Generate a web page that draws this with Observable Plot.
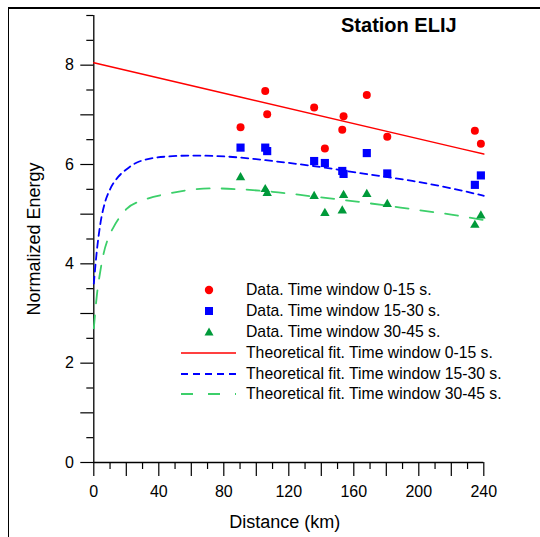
<!DOCTYPE html>
<html>
<head>
<meta charset="utf-8">
<script src="https://cdn.jsdelivr.net/npm/d3@7"></script>
<script src="https://cdn.jsdelivr.net/npm/@observablehq/plot@0.6"></script>
<style>
  html, body { margin: 0; padding: 0; background: #fff; }
  body { width: 540px; height: 537px; position: relative; overflow: hidden; font-family: Arial, "Liberation Sans", sans-serif; }
  #chart { position: absolute; left: 0; top: 0; }
  #frame { position: absolute; left: 8px; top: 7px; width: 540px; height: 540px; border-top: 2px solid #000; border-left: 1.5px solid #000; box-sizing: border-box; pointer-events: none; }
  #legend { position: absolute; left: 180px; top: 279.5px; font-size: 15.75px; color: #000; }
  #legend .row { height: 20.9px; display: flex; align-items: center; white-space: nowrap; }
  #legend svg { width: 58px; height: 20px; margin-right: 8px; flex: none; }
</style>
</head>
<body>
<div id="chart"></div>
<div id="frame"></div>
<div id="legend"></div>
<script>
// ---- data ----
const distances = [90.3, 105.5, 106.7, 135.6, 142.2, 152.9, 153.7, 168, 180.6, 234.5, 238.2];
const energy0_15  = [6.75, 7.48, 7.01, 7.15, 6.32, 6.70, 6.97, 7.40, 6.56, 6.68, 6.42];
const energy15_30 = [6.34, 6.34, 6.27, 6.07, 6.03, 5.87, 5.81, 6.23, 5.82, 5.59, 5.78];
const energy30_45 = [5.74, 5.50, 5.42, 5.36, 5.02, 5.07, 5.38, 5.40, 5.20, 4.78, 4.97];

const fitDist0_15 = [0, 90, 240];
const fitVal0_15  = [8.05, 7.36, 6.21];
const fitDist15_30 = [0, 2, 4, 7, 10, 15, 20, 28, 45, 60, 75, 90, 110, 135, 167, 196, 220, 240];
const fitVal15_30  = [3.6, 4.3, 4.8, 5.25, 5.5, 5.75, 5.9, 6.06, 6.16, 6.18, 6.17, 6.14, 6.07, 5.97, 5.81, 5.67, 5.52, 5.37];
const fitDist30_45 = [0, 2, 4, 6, 10, 12, 20, 32, 47, 59, 73, 90, 110, 134, 167, 196, 220, 240];
const fitVal30_45  = [2.7, 3.4, 3.85, 4.2, 4.6, 4.73, 5.1, 5.3, 5.42, 5.49, 5.52, 5.5, 5.45, 5.36, 5.23, 5.1, 4.99, 4.88];

const xMajorTicks = [0, 20, 40, 60, 80, 100, 120, 140, 160, 180, 200, 220, 240];
const xMinorTicks = [10, 30, 50, 70, 90, 110, 130, 150, 170, 190, 210, 230];
const xLabelTicks = [0, 40, 80, 120, 160, 200, 240];
const yMajorTicks = [0, 1, 2, 3, 4, 5, 6, 7, 8];
const yMinorTicks = [0.5, 1.5, 2.5, 3.5, 4.5, 5.5, 6.5, 7.5, 8.5, 9];
const yLabelTicks = [0, 2, 4, 6, 8];

const titleText = "Station ELIJ";
const xLabel = "Distance (km)";
const yLabel = "Normalized Energy";
const seriesNames = ["Data. Time window 0-15 s.", "Data. Time window 15-30 s.", "Data. Time window 30-45 s.",
  "Theoretical fit. Time window 0-15 s.", "Theoretical fit. Time window 15-30 s.", "Theoretical fit. Time window 30-45 s."];

// ---- build tables ----
const pts = (vals) => distances.map((d, i) => ({d, v: vals[i]}));
const fit = (ds, vs) => ds.map((d, i) => ({d, v: vs[i]}));
const obs1 = pts(energy0_15), obs2 = pts(energy15_30), obs3 = pts(energy30_45);
const fit1 = fit(fitDist0_15, fitVal0_15), fit2 = fit(fitDist15_30, fitVal15_30), fit3 = fit(fitDist30_45, fitVal30_45);

const RED = "#ff0000", BLUE = "#0000ff", GREEN_PT = "#009a3a", GREEN_LN = "#3ccf6a";
const font = "Arial, 'Liberation Sans', sans-serif";

const chart = Plot.plot({
  width: 540, height: 537,
  marginLeft: 93.3, marginRight: 56.7, marginTop: 15, marginBottom: 75,
  style: {fontFamily: font, fontSize: "16px", background: "transparent", color: "#000"},
  x: {domain: [0, 240]},
  y: {domain: [0, 9]},
  marks: [
    Plot.ruleX([0], {stroke: "#000", strokeWidth: 1.3}),
    Plot.ruleY([0], {stroke: "#000", strokeWidth: 1.3}),
    Plot.axisY(yMajorTicks, {tickSize: 13, tickPadding: 7, fontSize: 16, strokeWidth: 1.2,
      tickFormat: d => yLabelTicks.includes(d) ? String(d) : "", label: null}),
    Plot.axisY(yMinorTicks, {tickSize: 7, strokeWidth: 1.2, tickFormat: () => "", label: null}),
    Plot.axisX(xMajorTicks, {tickSize: 14, tickPadding: 9, fontSize: 16, strokeWidth: 1.2,
      tickFormat: d => xLabelTicks.includes(d) ? String(d) : "", label: null}),
    Plot.axisX(xMinorTicks, {tickSize: 7, strokeWidth: 1.2, tickFormat: () => "", label: null}),
    Plot.text([yLabel], {text: d => d, frameAnchor: "left", rotate: -90, dx: -60,
      textAnchor: "middle", lineAnchor: "middle", fontSize: 18, fill: "#000"}),
    Plot.text([xLabel], {text: d => d, frameAnchor: "bottom", dx: -4, dy: 60,
      textAnchor: "middle", lineAnchor: "middle", fontSize: 18, fill: "#000"}),
    Plot.line(fit1, {x: "d", y: "v", stroke: RED, strokeWidth: 1.5, curve: "monotone-x"}),
    Plot.line(fit2, {x: "d", y: "v", stroke: BLUE, strokeWidth: 1.8, strokeDasharray: "7,5", curve: "monotone-x"}),
    Plot.line(fit3, {x: "d", y: "v", stroke: GREEN_LN, strokeWidth: 1.8, strokeDasharray: "13,12", curve: "monotone-x"}),
    Plot.dot(obs1, {x: "d", y: "v", fill: RED, r: 4, symbol: "circle"}),
    Plot.dot(obs2, {x: "d", y: "v", fill: BLUE, r: 4.6, symbol: "square"}),
    Plot.dot(obs3, {x: "d", y: "v", fill: GREEN_PT, r: 3.5, symbol: "triangle"}),
    Plot.text([titleText], {text: d => d, frameAnchor: "top", dx: 110, dy: 10, lineAnchor: "middle",
      fontSize: 20, fontWeight: "bold", fill: "#000"})
  ]
});
document.getElementById("chart").appendChild(chart);

// ---- legend (HTML overlay inside the plot area) ----
const legendSwatches = [
  `<circle cx="29" cy="10" r="4.2" fill="${RED}"/>`,
  `<rect x="25" y="6" width="8" height="8" fill="${BLUE}"/>`,
  `<path d="M29,5.5 L33.5,13.5 L24.5,13.5 Z" fill="${GREEN_PT}"/>`,
  `<line x1="1" x2="56" y1="10" y2="10" stroke="${RED}" stroke-width="1.5"/>`,
  `<line x1="1" x2="56" y1="10" y2="10" stroke="${BLUE}" stroke-width="1.8" stroke-dasharray="7,5"/>`,
  `<line x1="1" x2="56" y1="10" y2="10" stroke="${GREEN_LN}" stroke-width="1.8" stroke-dasharray="12,15"/>`
];
const legend = document.getElementById("legend");
seriesNames.forEach((name, i) => {
  const row = document.createElement("div");
  row.className = "row";
  row.innerHTML = `<svg viewBox="0 0 58 20">${legendSwatches[i]}</svg><span>${name}</span>`;
  legend.appendChild(row);
});
</script>
</body>
</html>
